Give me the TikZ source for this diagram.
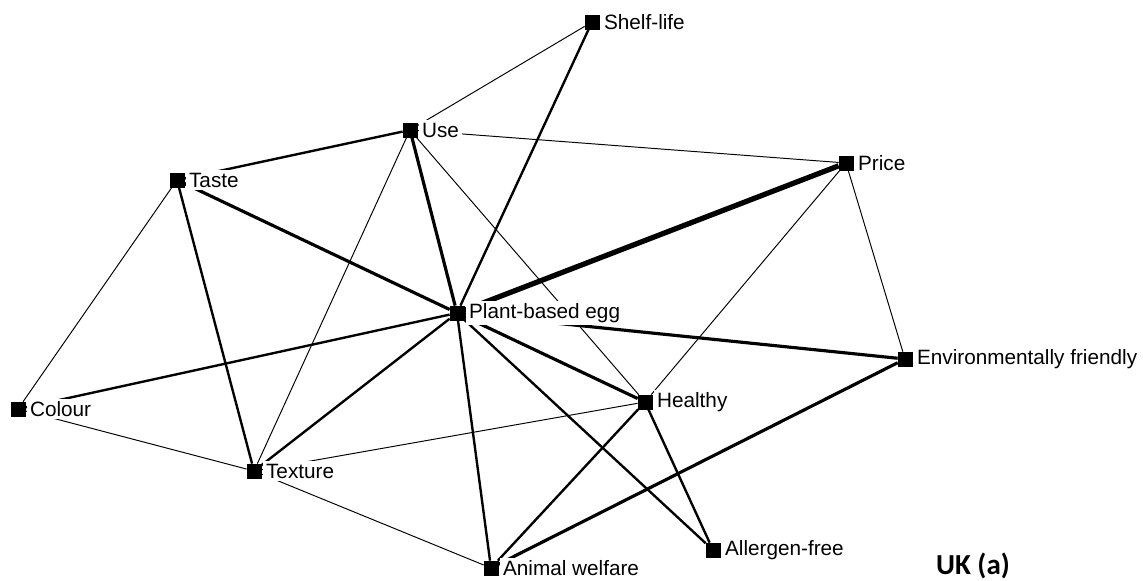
\documentclass[tikz,border=0pt]{standalone}
\usepackage{fontspec}
\setmainfont{Liberation Sans}
\newfontfamily\ukfont{Carlito}
\usepackage{tikz}
\usetikzlibrary{backgrounds}

\tikzset{
  attr/.style={draw,fill=black,rectangle,minimum size=0.28cm,inner sep=0pt,
    label={[label distance=1pt,inner sep=1.5pt,fill=white,
      font=\fontsize{11.8}{13}\selectfont]right:#1}},
  thinlink/.style={line width=0.55pt},
  midlink/.style={line width=1.35pt},
  boldlink/.style={line width=1.8pt},
  heavylink/.style={line width=3pt}
}

\begin{document}
\begin{tikzpicture}[x=0.02cm,y=-0.02cm]
    \useasboundingbox (0,0) rectangle (1143,581);

    \node[attr=Shelf-life] (shelf) at (592,22) {};
    \node[attr=Use] (use) at (410,130) {};
    \node[attr=Price] (price) at (846,163) {};
    \node[attr=Taste] (taste) at (177,180) {};
    \node[attr=Plant-based egg] (egg) at (457,313) {};
    \node[attr=Environmentally friendly] (env) at (905,359) {};
    \node[attr=Colour] (colour) at (18,409) {};
    \node[attr=Healthy] (healthy) at (645,402) {};
    \node[attr=Texture] (texture) at (254,471) {};
    \node[attr=Allergen-free] (allergen) at (713,550) {};
    \node[attr=Animal welfare] (animal) at (491,568) {};

    \begin{pgfonlayer}{background}
    \draw[thinlink] (shelf) -- (use);
    \draw[midlink] (shelf) -- (egg);
    \draw[midlink] (use) -- (taste);
    \draw[thinlink] (use) -- (price);
    \draw[boldlink] (use) -- (egg);
    \draw[thinlink] (use) -- (texture);
    \draw[thinlink] (use) -- (healthy);
    \draw[boldlink] (taste) -- (egg);
    \draw[thinlink] (taste) -- (colour);
    \draw[midlink] (taste) -- (texture);
    \draw[heavylink] (price) -- (egg);
    \draw[thinlink] (price) -- (env);
    \draw[thinlink] (price) -- (healthy);
    \draw[boldlink] (egg) -- (env);
    \draw[midlink] (egg) -- (colour);
    \draw[midlink] (egg) -- (texture);
    \draw[boldlink] (egg) -- (healthy);
    \draw[midlink] (egg) -- (allergen);
    \draw[midlink] (egg) -- (animal);
    \draw[boldlink] (env) -- (animal);
    \draw[thinlink] (colour) -- (texture);
    \draw[thinlink] (texture) -- (healthy);
    \draw[thinlink] (texture) -- (animal);
    \draw[midlink] (healthy) -- (allergen);
    \draw[midlink] (healthy) -- (animal);
    \end{pgfonlayer}

    \node[font=\ukfont\bfseries\fontsize{16.5}{19}\selectfont] (uk) at (973,566) {UK (a)};
\end{tikzpicture}
\end{document}
